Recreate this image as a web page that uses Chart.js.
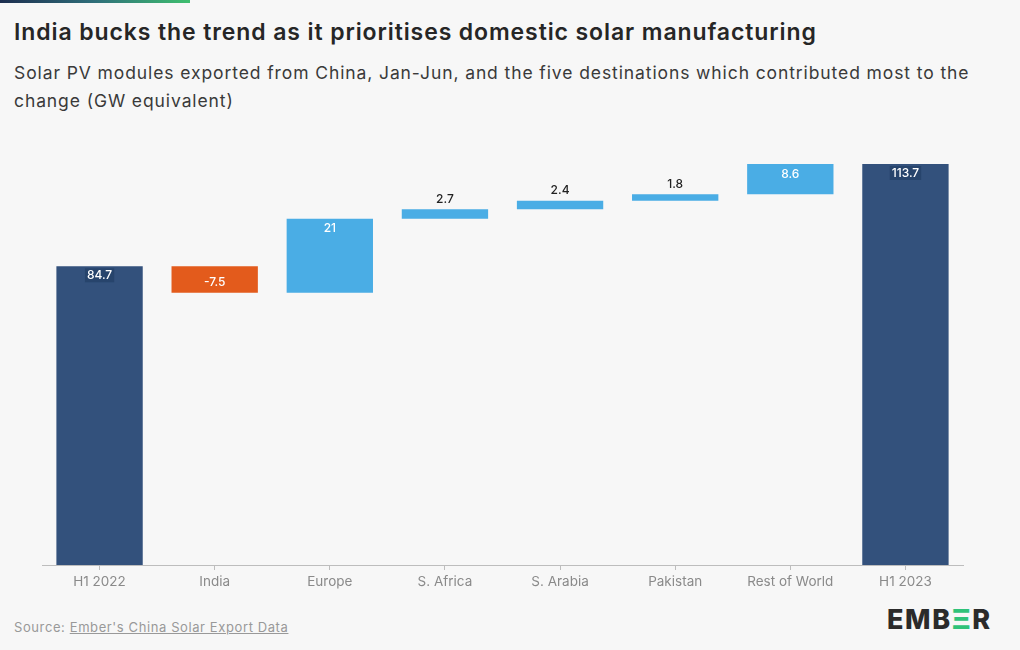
<!DOCTYPE html>
<html lang="en">
<head>
  <meta charset="UTF-8">
  <title>India bucks the trend</title>
  <script src="https://cdn.jsdelivr.net/npm/chart.js"></script>
  <style>
    html, body {
      margin: 0;
      padding: 0;
      background: #f7f7f7;
      font-family: Inter, "Noto Sans", sans-serif;
    }
    .page {
      position: relative;
      width: 1020px;
      height: 650px;
      overflow: hidden;
    }
    .topbar {
      position: absolute;
      left: 0; top: 0;
      width: 190px; height: 3px;
      background: linear-gradient(90deg, #1d2e4f, #2f6f7a 50%, #3fbf6f);
    }
    h1 {
      position: absolute;
      left: 14px; top: 18px;
      margin: 0;
      font-size: 23px;
      font-weight: 600;
      color: #262626;
      letter-spacing: 0.9px;
      white-space: nowrap;
    }
    .sub {
      position: absolute;
      left: 14px; top: 59px;
      margin: 0;
      font-size: 17.5px;
      line-height: 28px;
      color: #3a3a3a;
      letter-spacing: 0.9px;
      white-space: nowrap;
    }
    .chart-box {
      position: absolute;
      left: 0; top: 150px;
      width: 1020px; height: 450px;
    }
    .source {
      position: absolute;
      left: 14px; top: 619px;
      font-size: 13px;
      color: #999;
      letter-spacing: 0.6px;
    }
    .source a { color: #999; text-decoration: underline; }
    .logo {
      position: absolute;
      left: 887px; top: 603px;
      font-size: 27px;
      font-weight: 800;
      color: #2b2b2b;
      letter-spacing: 1.6px;
    }
    .logo span { color: #2fc279; }
  </style>
</head>
<body>
<div class="page">
  <div class="topbar"></div>
  <h1>India bucks the trend as it prioritises domestic solar manufacturing</h1>
  <p class="sub">Solar PV modules exported from China, Jan-Jun, and the five destinations which contributed most to the<br>change (GW equivalent)</p>
  <div class="chart-box"><canvas id="waterfall" width="1020" height="450"></canvas></div>
  <div class="source">Source: <a>Ember's China Solar Export Data</a></div>
  <div class="logo">EMB<span>Ξ</span>R</div>
</div>

<script>
  // data (GW)
  var categories = ['H1 2022', 'India', 'Europe', 'S. Africa', 'S. Arabia', 'Pakistan', 'Rest of World', 'H1 2023'];
  var changes = [84.7, -7.5, 21, 2.7, 2.4, 1.8, 8.6, 113.7];
  var isTotal = [true, false, false, false, false, false, false, true];

  var navy = '#33517c';
  var orange = '#e35b1c';
  var blue = '#4aade5';

  // floating bars: totals from 0, changes from running sum
  var ranges = [];
  var colours = [];
  var running = 0;
  for (var i = 0; i < changes.length; i++) {
    if (isTotal[i]) {
      ranges.push([0, changes[i]]);
      running = changes[i];
      colours.push(navy);
    } else {
      ranges.push([running, running + changes[i]]);
      running += changes[i];
      colours.push(changes[i] < 0 ? orange : blue);
    }
  }

  var labelPlugin = {
    id: 'barLabels',
    afterDatasetsDraw: function(chart) {
      var ctx = chart.ctx;
      var meta = chart.getDatasetMeta(0);
      ctx.save();
      ctx.font = '500 12px Inter, "Noto Sans", sans-serif';
      ctx.textAlign = 'center';
      ctx.textBaseline = 'middle';
      meta.data.forEach(function(bar, i) {
        var txt = String(changes[i]);
        var top = Math.min(bar.y, bar.base);
        var bottom = Math.max(bar.y, bar.base);
        var h = bottom - top;
        var y;
        if (isTotal[i]) {
          y = top + 9;
          var w = ctx.measureText(txt).width + 4;
          ctx.fillStyle = '#27446c';
          ctx.fillRect(bar.x - w / 2, y - 7, w, 14);
          ctx.fillStyle = '#ffffff';
        } else if (changes[i] < 0) {
          y = top + h / 2 + 3;
          ctx.fillStyle = '#ffffff';
        } else if (h > 20) {
          y = top + 10;
          ctx.fillStyle = '#ffffff';
        } else {
          y = top - 10;
          ctx.fillStyle = '#222222';
        }
        ctx.fillText(txt, bar.x, y);
      });
      ctx.restore();
    }
  };

  var ctx = document.getElementById('waterfall').getContext('2d');
  var chart = new Chart(ctx, {
    type: 'bar',
    data: {
      labels: categories,
      datasets: [{
        data: ranges,
        backgroundColor: colours,
        borderWidth: 0,
        categoryPercentage: 1.0,
        barPercentage: 0.75
      }]
    },
    options: {
      responsive: false,
      maintainAspectRatio: false,
      animation: false,
      layout: { padding: { left: 42, right: 57, top: 14, bottom: 0 } },
      plugins: {
        legend: { display: false },
        tooltip: { enabled: false }
      },
      scales: {
        x: {
          offset: true,
          grid: {
            offset: false,
            drawOnChartArea: false,
            tickLength: 5,
            color: '#bdbdbd'
          },
          border: { color: '#bdbdbd' },
          ticks: {
            color: '#8a8a8a',
            font: { family: 'Inter, "Noto Sans", sans-serif', size: 13.5 },
            padding: 4,
            maxRotation: 0,
            autoSkip: false
          },
          afterFit: function(scale) { scale.height = 35; }
        },
        y: {
          display: false,
          min: 0,
          max: 113.7
        }
      }
    },
    plugins: [labelPlugin]
  });
</script>
</body>
</html>
